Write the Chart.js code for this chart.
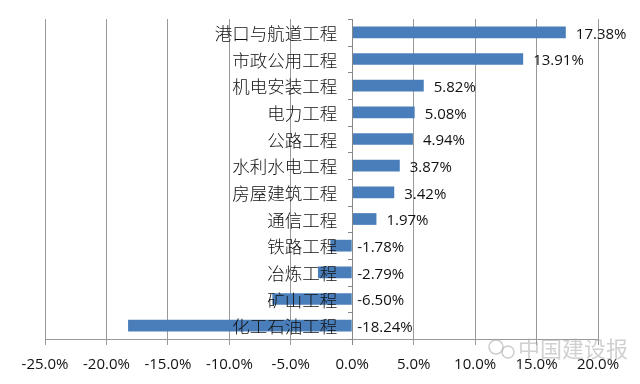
<!DOCTYPE html>
<html>
<head>
<meta charset="utf-8">
<script src="https://cdn.jsdelivr.net/npm/chart.js@4/dist/chart.umd.min.js"></script>
<style>
  html, body { margin: 0; padding: 0; background: #fff; }
  #wrap { width: 640px; height: 384px; }
</style>
</head>
<body>
<div id="wrap"><canvas id="bar-chartcanvas"></canvas></div>
<script>
var categories = ["港口与航道工程", "市政公用工程", "机电安装工程", "电力工程", "公路工程",
    "水利水电工程", "房屋建筑工程", "通信工程", "铁路工程", "冶炼工程", "矿山工程", "化工石油工程"];
var growth = [17.38, 13.91, 5.82, 5.08, 4.94, 3.87, 3.42, 1.97, -1.78, -2.79, -6.50, -18.24];
var growthLabels = ["17.38%", "13.91%", "5.82%", "5.08%", "4.94%", "3.87%", "3.42%", "1.97%",
    "-1.78%", "-2.79%", "-6.50%", "-18.24%"];
var xTicks = [-25, -20, -15, -10, -5, 0, 5, 10, 15, 20];

var cjkFont = "'Noto Sans CJK SC', 'Noto Sans', sans-serif";
var latinFont = "'Open Sans', 'Liberation Sans', sans-serif";

// category names next to the zero line, value labels, zero axis, watermark
var labelPlugin = {
    id: "labelPlugin",
    afterDatasetsDraw: function(chart) {
        var ctx = chart.ctx;
        var x = chart.scales.x;
        var y = chart.scales.y;
        var area = chart.chartArea;
        var zero = x.getPixelForValue(0);
        var meta = chart.getDatasetMeta(0);

        ctx.save();
        // zero axis with small ticks
        ctx.strokeStyle = "#888";
        ctx.lineWidth = 1;
        ctx.beginPath();
        ctx.moveTo(Math.round(zero) + 0.5, area.top);
        ctx.lineTo(Math.round(zero) + 0.5, area.bottom + 6);
        var step = (area.bottom - area.top) / categories.length;
        for (var k = 0; k <= categories.length; k++) {
            var ty = Math.round(area.top + k * step) + 0.5;
            ctx.moveTo(Math.round(zero) - 4, ty);
            ctx.lineTo(Math.round(zero) + 1, ty);
        }
        ctx.stroke();

        // category labels
        ctx.fillStyle = "#111";
        ctx.font = "300 17.5px " + cjkFont;
        ctx.textAlign = "right";
        ctx.textBaseline = "middle";
        for (var i = 0; i < categories.length; i++) {
            ctx.fillText(categories[i], zero - 15, y.getPixelForValue(i) + 1);
        }

        // value labels
        ctx.font = "15px " + latinFont;
        ctx.textAlign = "left";
        for (var j = 0; j < growth.length; j++) {
            var bar = meta.data[j];
            var lx = growth[j] >= 0 ? bar.x + 10 : zero + 5;
            ctx.fillText(growthLabels[j], lx, bar.y + 2);
        }

        // watermark
        ctx.fillStyle = "rgba(170,170,170,0.55)";
        ctx.font = "22px " + cjkFont;
        ctx.textAlign = "left";
        ctx.fillText("中国建设报", 518, 349);
        ctx.strokeStyle = "rgba(170,170,170,0.6)";
        ctx.lineWidth = 1.5;
        ctx.beginPath();
        ctx.arc(496, 347, 7, 0, Math.PI * 2);
        ctx.stroke();
        ctx.beginPath();
        ctx.arc(508, 352, 6, 0, Math.PI * 2);
        ctx.stroke();
        ctx.restore();
    }
};

var ctx1 = document.getElementById("bar-chartcanvas");

var data1 = {
    labels: categories,
    datasets: [
        {
            label: "增长率",
            data: growth,
            backgroundColor: "#4a7ebb",
            borderWidth: 0,
            categoryPercentage: 1.0,
            barPercentage: 0.44
        }
    ]
};

var options1 = {
    indexAxis: "y",
    responsive: true,
    maintainAspectRatio: false,
    animation: false,
    layout: {
        padding: { left: 45, right: 42, top: 19, bottom: 0 }
    },
    plugins: {
        legend: { display: false },
        tooltip: { enabled: false }
    },
    scales: {
        x: {
            min: -25,
            max: 20,
            afterBuildTicks: function(axis) {
                axis.ticks = xTicks.map(function(v) { return { value: v }; });
            },
            afterFit: function(axis) {
                axis.height = 45;
            },
            grid: {
                color: "#999",
                lineWidth: 1,
                tickLength: 6,
                drawTicks: true
            },
            border: { display: true, color: "#999" },
            ticks: {
                padding: 11,
                color: "#111",
                font: { size: 15, family: latinFont },
                callback: function(v) { return v.toFixed(1) + "%"; }
            }
        },
        y: {
            display: false,
            grid: { display: false }
        }
    }
};

var chart1 = new Chart(ctx1, {
    type: "bar",
    data: data1,
    options: options1,
    plugins: [labelPlugin]
});
</script>
</body>
</html>
